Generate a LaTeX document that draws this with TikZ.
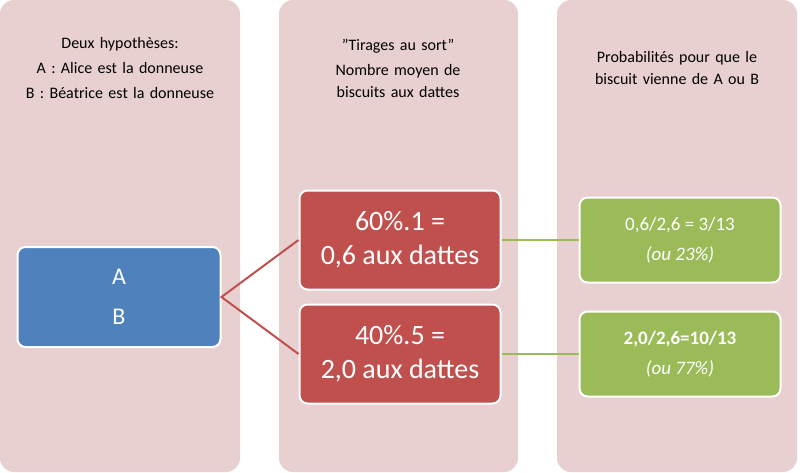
\documentclass[tikz,border=0pt]{standalone}
\usepackage{fontspec}
\setmainfont{Carlito}
\definecolor{pk}{HTML}{E8D0D1}
\definecolor{rd}{HTML}{C0504D}
\definecolor{bl}{HTML}{4F81BD}
\definecolor{gr}{HTML}{9BBB59}
\tikzset{col/.style={fill=pk,rounded corners=14pt},
 bx/.style={draw=white,line width=2pt,rounded corners=8pt,text=white,align=center},
 hd/.style={align=center,font=\fontsize{16}{22}\selectfont,text width=220pt}}
\begin{document}
\begin{tikzpicture}[x=1pt,y=-1pt]
\useasboundingbox (0,0) rectangle (800,472);
\fill[col] (0,0) rectangle (240,472);
\fill[col] (279,0) rectangle (518,472);
\fill[col] (557,0) rectangle (797,472);
\node[hd] (h1) at (120,68) {Deux hypothèses:\\[3pt] A : Alice est la donneuse\\[3pt] B : Béatrice est la donneuse};
\node[hd] (h2) at (398,68) {"Tirages au sort"\\[3pt] Nombre moyen de\\ biscuits aux dattes};
\node[hd] (h3) at (677,68) {Probabilités pour que le\\ biscuit vienne de A ou B};
\node[bx,fill=bl,minimum width=203pt,minimum height=100pt,font=\fontsize{24}{40}\selectfont] (ab) at (119,297) {A\\B};
\node[bx,fill=rd,minimum width=201pt,minimum height=99pt,font=\fontsize{28}{34}\selectfont] (r1) at (400,240) {60\%.1 =\\0,6 aux dattes};
\node[bx,fill=rd,minimum width=201pt,minimum height=99pt,font=\fontsize{28}{34}\selectfont] (r2) at (400,354) {40\%.5 =\\2,0 aux dattes};
\node[bx,fill=gr,minimum width=201pt,minimum height=85pt,font=\fontsize{19}{30}\selectfont] (g1) at (680,240) {0,6/2,6 = 3/13\\\textit{(ou 23\%)}};
\node[bx,fill=gr,minimum width=201pt,minimum height=85pt,font=\fontsize{19}{30}\selectfont] (g2) at (680,354) {\textbf{2,0/2,6=10/13}\\\textit{(ou 77\%)}};
\draw[rd,line width=2pt] (r1.west) -- (ab.east) -- (r2.west);
\draw[gr,line width=2pt] (r1.east) -- (g1.west);
\draw[gr,line width=2pt] (r2.east) -- (g2.west);
\end{tikzpicture}
\end{document}
